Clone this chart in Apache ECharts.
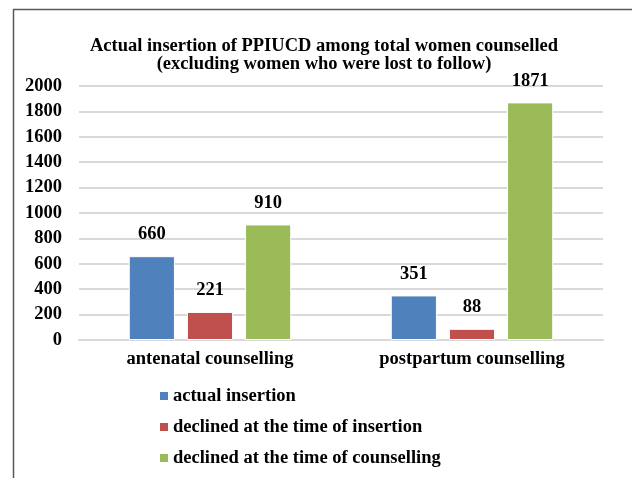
<!DOCTYPE html>
<html><head><meta charset="utf-8">
<script src="https://cdn.jsdelivr.net/npm/echarts@6/dist/echarts.min.js"></script>
<style>html,body{margin:0;padding:0;background:#fff}#c{width:632px;height:478px}</style>
</head><body><div id="c"></div>
<script>
const categories = ['antenatal counselling', 'postpartum counselling'];
const seriesNames = ['actual insertion', 'declined at the time of insertion', 'declined at the time of counselling'];
const actualInsertion = [660, 351];
const declinedInsertion = [221, 88];
const declinedCounselling = [910, 1871];
const yTicks = [0, 200, 400, 600, 800, 1000, 1200, 1400, 1600, 1800, 2000];

const font = '"Liberation Serif", "Times New Roman", serif';
const colors = ['#4F81BD', '#C0504D', '#9BBB59'];
const values = [actualInsertion, declinedInsertion, declinedCounselling];

const chart = echarts.init(document.getElementById('c'));
chart.setOption({
  animation: false,
  color: colors,
  textStyle: { fontFamily: font },
  title: {
    text: 'Actual insertion of PPIUCD among total women counselled\n(excluding women who were lost to follow)',
    left: 319, top: 32, textAlign: 'center',
    textStyle: { fontFamily: font, fontSize: 18.5, fontWeight: 'bold', color: '#000', lineHeight: 18 }
  },
  graphic: [
    { type: 'line', shape: { x1: 13.5, y1: 9, x2: 13.5, y2: 478 }, style: { stroke: '#595959', lineWidth: 1.5 } },
    { type: 'line', shape: { x1: 13, y1: 9.5, x2: 632, y2: 9.5 }, style: { stroke: '#595959', lineWidth: 1.5 } }
  ],
  legend: {
    orient: 'vertical', left: 153, top: 381,
    itemWidth: 10, itemHeight: 10, itemGap: 11,
    icon: 'rect',
    data: seriesNames,
    textStyle: { fontFamily: font, fontSize: 18.5, fontWeight: 'bold', color: '#000', lineHeight: 20, padding: [0, 0, 0, -1] }
  },
  grid: { left: 79, right: 29, top: 86, bottom: 138 },
  xAxis: {
    type: 'category', data: categories,
    axisTick: { show: false },
    axisLine: { lineStyle: { color: '#D9D9D9', width: 2 } },
    axisLabel: { fontFamily: font, fontSize: 18.5, fontWeight: 'bold', color: '#000', margin: 10 }
  },
  yAxis: {
    type: 'value', min: yTicks[0], max: yTicks[yTicks.length - 1], interval: yTicks[1] - yTicks[0],
    axisLine: { show: false }, axisTick: { show: false },
    splitLine: { lineStyle: { color: '#D9D9D9', width: 2 } },
    axisLabel: { fontFamily: font, fontSize: 18.5, fontWeight: 'bold', color: '#000', margin: 17, formatter: v => String(v) }
  },
  series: seriesNames.map((n, i) => ({
    name: n, type: 'bar', data: values[i],
    barGap: '26%', barCategoryGap: '38%',
    itemStyle: { color: colors[i], borderColor: '#ffffff', borderWidth: 1 },
    label: { show: true, position: 'top', distance: 12, fontFamily: font, fontSize: 18.5, fontWeight: 'bold', color: '#000' }
  }))
});
</script></body></html>
